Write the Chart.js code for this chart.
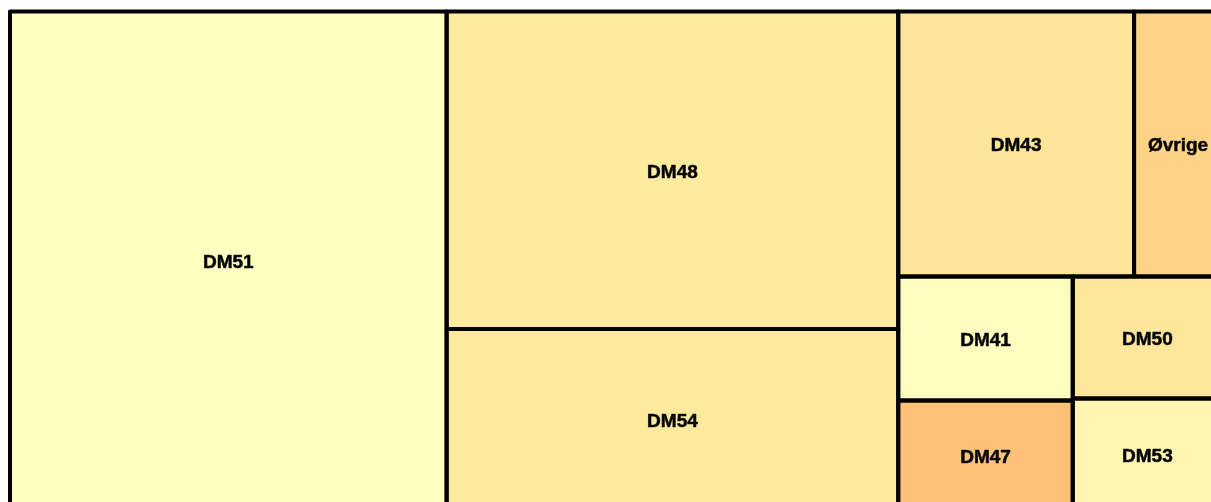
<!DOCTYPE html>
<html>
<head>
<meta charset="utf-8">
<script src="https://cdn.jsdelivr.net/npm/chart.js@4.4.1/dist/chart.umd.min.js"></script>
<style>
  html, body { margin: 0; padding: 0; background: #fff; overflow: hidden; }
  #wrap { position: absolute; left: 0; top: 0; width: 1240px; height: 530px; }
</style>
</head>
<body>
<div id="wrap"><canvas id="treemapChart"></canvas></div>
<script>
// categories and values (sorted largest first, as laid out)
const labels = ['DM51', 'DM48', 'DM54', 'DM43', 'Øvrige', 'DM41', 'DM47', 'DM50', 'DM53'];
const values = [2178, 1434, 819, 625, 233, 216, 192, 182, 167];
const colors = ['#FFFFC0', '#FFEA9E', '#FFE99D', '#FFE597', '#FDD486', '#FFFCC0', '#FCC277', '#FEE79B', '#FFF4B2'];

// squarified-style layout: keep adding to a strip while the last cell gets squarer
function squarify(vals, W, H) {
  const total = vals.reduce((a, b) => a + b, 0);
  const areas = vals.map(v => v / total * W * H);
  const out = [];
  let x = 0, y = 0, w = W, h = H;
  let i = 0;
  const ratio = (a, b) => Math.max(a / b, b / a);
  while (i < areas.length) {
    const vertical = w >= h;
    const side = vertical ? h : w;
    const row = [i];
    let rowSum = areas[i];
    let j = i + 1;
    while (j < areas.length) {
      const last = areas[row[row.length - 1]];
      const t0 = rowSum / side;
      const r0 = ratio(t0, last / t0);
      const t1 = (rowSum + areas[j]) / side;
      const r1 = ratio(t1, last / t1);
      if (r1 > r0) break;
      row.push(j);
      rowSum += areas[j];
      j++;
    }
    const thick = rowSum / side;
    let pos = vertical ? y : x;
    row.forEach(k => {
      const len = areas[k] / thick;
      if (vertical) out[k] = { x: x, y: pos, w: thick, h: len };
      else out[k] = { x: pos, y: y, w: len, h: thick };
      pos += len;
    });
    if (vertical) { x += thick; w -= thick; } else { y += thick; h -= thick; }
    i = j;
  }
  return out;
}

const treemapPlugin = {
  id: 'treemapCells',
  afterDraw(chart) {
    const ctx = chart.ctx;
    const xs = chart.scales.x;
    const ys = chart.scales.y;
    const area = chart.chartArea;
    const W = area.right - area.left;
    const H = area.bottom - area.top;
    const rects = squarify(values, W, H).map(r => {
      const x0 = xs.getPixelForValue(r.x / W);
      const x1 = xs.getPixelForValue((r.x + r.w) / W);
      const y0 = ys.getPixelForValue(r.y / H);
      const y1 = ys.getPixelForValue((r.y + r.h) / H);
      return { x: x0, y: y0, w: x1 - x0, h: y1 - y0 };
    });

    ctx.save();
    rects.forEach((r, k) => {
      ctx.fillStyle = colors[k];
      ctx.fillRect(r.x, r.y, r.w, r.h);
    });
    ctx.strokeStyle = '#000';
    ctx.lineWidth = 4;
    ctx.lineJoin = 'round';
    rects.forEach(r => {
      ctx.strokeRect(r.x, r.y, r.w, r.h);
    });

    // labels, slightly heavier like the original's outlined text
    ctx.fillStyle = '#000';
    ctx.strokeStyle = '#1a1a1a';
    ctx.lineWidth = 0.6;
    ctx.font = 'bold 19px "Liberation Sans", Arial, sans-serif';
    ctx.textAlign = 'center';
    ctx.textBaseline = 'middle';
    rects.forEach((r, k) => {
      const cx = r.x + r.w / 2;
      const cy = r.y + r.h / 2 + 2;
      ctx.fillText(labels[k], cx, cy);
      ctx.strokeText(labels[k], cx, cy);
    });
    ctx.restore();
  }
};

const chart = new Chart(document.getElementById('treemapChart'), {
  type: 'scatter',
  data: { datasets: [] },
  options: {
    responsive: true,
    maintainAspectRatio: false,
    animation: false,
    layout: { padding: { left: 10, top: 11.5, right: 18, bottom: 19.5 } },
    plugins: {
      legend: { display: false },
      tooltip: { enabled: false },
      title: { display: false }
    },
    scales: {
      x: { type: 'linear', min: 0, max: 1, display: false },
      y: { type: 'linear', min: 0, max: 1, reverse: true, display: false }
    }
  },
  plugins: [treemapPlugin]
});
</script>
</body>
</html>
